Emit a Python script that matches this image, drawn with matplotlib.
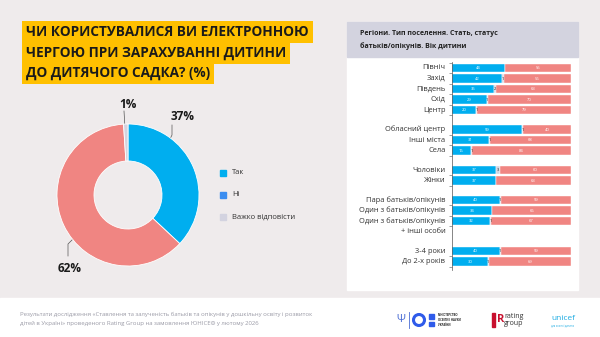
import matplotlib.pyplot as plt
from matplotlib.patches import Rectangle, Circle

plt.rcParams['font.family'] = ['Open Sans', 'DejaVu Sans']

# donut data
pie_labels = ["Так", "Ні", "Важко відповісти"]
pie_values = [37, 62, 1]
pie_colors = ["#00AEEF", "#F08582", "#D3D3E0"]
legend_colors = ["#00AEEF", "#3B8DF0", "#D3D3E0"]

# stacked bar data (yes / hard to say / no)
groups = [
    ["Північ", "Захід", "Південь", "Схід", "Центр"],
    ["Обласний центр", "Інші міста", "Села"],
    ["Чоловіки", "Жінки"],
    ["Пара батьків/опікунів", "Один з батьків/опікунів", "Один з батьків/опікунів\n+ інші особи"],
    ["3-4 роки", "До 2-х років"],
]
yes_vals = [44, 42, 35, 29, 20, 59, 31, 16, 37, 37, 40, 34, 32, 40, 30]
dk_vals  = [0, 1, 2, 1, 1, 1, 1, 1, 3, 0, 1, 0, 1, 1, 1]
no_vals  = [55, 56, 63, 70, 79, 40, 68, 84, 60, 63, 59, 66, 67, 59, 69]

W, H = 600, 337
fig = plt.figure(figsize=(6, 3.37), dpi=100)
fig.patch.set_facecolor("#EFEBEC")

def fx(px):
    return px / W

def fy(py):
    return 1 - py / H

# background panels
bg = fig.add_axes([0, 0, 1, 1])
bg.set_xlim(0, W)
bg.set_ylim(H, 0)
bg.axis("off")
bg.add_patch(Rectangle((0, 298), W, 40, color="white", zorder=0))
bg.add_patch(Rectangle((347, 22), 231, 268, color="white", zorder=0))
bg.add_patch(Rectangle((347, 22), 231, 35, color="#D3D3DF", zorder=0))
bg.text(360, 40, "Регіони. Тип поселення. Стать, статус\nбатьків/опікунів. Вік дитини",
        fontsize=5, fontweight="bold", color="#222222", va="center", linespacing=2.0)

# title
title_lines = ["ЧИ КОРИСТУВАЛИСЯ ВИ ЕЛЕКТРОННОЮ", "ЧЕРГОЮ ПРИ ЗАРАХУВАННІ ДИТИНИ", "ДО ДИТЯЧОГО САДКА? (%)"]
for i, line in enumerate(title_lines):
    bg.text(26, 32 + i * 20.5, line, fontsize=9.8, fontweight="bold", color="#1A1A1A",
            va="center", ha="left",
            bbox=dict(boxstyle="square,pad=0.3", fc="#FFC000", ec="none"))

# footer
bg.text(20, 319, "Результати дослідження «Ставлення та залученість батьків та опікунів у дошкільну освіту і розвиток\n"
        "дітей в Україні» проведеного Rating Group на замовлення ЮНІСЕФ у лютому 2026",
        fontsize=4.3, color="#9A9AA6", va="center", linespacing=1.9)
bg.text(401, 320, "Ψ", fontsize=8, color="#4A6CD4", ha="center", va="center")
bg.plot([409, 409], [312, 328], color="#4A6CD4", lw=0.6)
bg.add_patch(Circle((419, 320), 5.5, fill=False, ec="#2F5BEA", lw=2.2))
bg.add_patch(Rectangle((429, 314), 5, 4.5, color="#2F5BEA"))
bg.add_patch(Rectangle((429, 321.5), 5, 4.5, color="#2F5BEA"))
bg.text(438, 320, "МІНІСТЕРСТВО\nОСВІТИ І НАУКИ\nУКРАЇНИ", fontsize=2, fontweight="bold",
        color="#222222", va="center", linespacing=1.3)
bg.add_patch(Rectangle((492, 313), 3, 14, color="#C8102E"))
bg.text(497, 320, "R", fontsize=8, fontweight="bold", color="#C8102E", va="center")
bg.text(504, 320, "rating\ngroup", fontsize=5, color="#333333", va="center", linespacing=0.9)
bg.text(551, 318, "unicef", fontsize=6, color="#1CABE2", va="center")
bg.text(551, 325.5, "для кожної дитини", fontsize=1.8, color="#1CABE2", va="center")

# donut
ax_pie = fig.add_axes([fx(128 - 75), fy(195 + 75), fx(150), 150 / H])
ax_pie.pie(pie_values, colors=pie_colors, startangle=90, counterclock=False,
           radius=71 / 75, wedgeprops=dict(width=37 / 75, edgecolor="white", linewidth=0.6))
ax_pie.set_xlim(-1, 1)
ax_pie.set_ylim(-1, 1)
ax_pie.set_aspect("equal")

# donut labels with leader lines (pixel coordinates)
bg.plot([162, 172, 172], [155, 135, 125], color="#555555", lw=0.5)
bg.text(183, 117, f"{pie_values[0]}%", fontsize=8.5, fontweight="bold", color="#1A1A1A", ha="center", va="center")
bg.plot([86, 68, 68], [226, 244, 256], color="#555555", lw=0.5)
bg.text(70, 268, f"{pie_values[1]}%", fontsize=8.5, fontweight="bold", color="#1A1A1A", ha="center", va="center")
bg.plot([125, 124], [128, 111], color="#555555", lw=0.5)
bg.text(128, 104, f"{pie_values[2]}%", fontsize=8.5, fontweight="bold", color="#1A1A1A", ha="center", va="center")

# legend
for i, (lab, c) in enumerate(zip(pie_labels, legend_colors)):
    yy = 173 + i * 22
    bg.add_patch(Rectangle((220, yy - 3), 6, 6, color=c))
    bg.text(232, yy, lab, fontsize=5.5, color="#333333", va="center")

# stacked bars
labels = []
ypos = []
pos = 0.0
for gi, g in enumerate(groups):
    if gi > 0:
        pos += 0.85
        if "\n" in groups[gi - 1][-1]:
            pos += 1.0
    for lab in g:
        labels.append(lab)
        ypos.append(pos)
        pos += 1

ax = fig.add_axes([fx(452), fy(270), fx(119), 208 / H])
ax.set_xlim(0, 100)
ax.set_ylim(19.2, -0.57)
ax.set_facecolor("white")
for s in ["top", "right", "bottom"]:
    ax.spines[s].set_visible(False)
ax.spines["left"].set_color("#555555")
ax.spines["left"].set_linewidth(0.5)
ax.set_xticks([])
ax.set_yticks([y + 0.5 for y in ypos] + [-0.5])
ax.set_yticklabels([])
ax.tick_params(axis="y", length=2, width=0.4, color="#555555")

bh = 0.78
for y, lab, a, d, n in zip(ypos, labels, yes_vals, dk_vals, no_vals):
    tot = a + d + n
    a_w, d_w, n_w = a * 100 / tot, d * 100 / tot, n * 100 / tot
    ax.barh(y, a_w, height=bh, color=pie_colors[0], edgecolor="white", linewidth=0.3)
    ax.barh(y, d_w, left=a_w, height=bh, color=pie_colors[2], edgecolor="white", linewidth=0.3)
    ax.barh(y, n_w, left=a_w + d_w, height=bh, color=pie_colors[1], edgecolor="white", linewidth=0.3)
    ax.text(a_w / 2, y, str(a), fontsize=3, color="white", ha="center", va="center")
    ax.text(a_w + d_w + n_w / 2, y, str(n), fontsize=3, color="white", ha="center", va="center")
    if d > 0:
        ax.text(a_w + d_w / 2, y, str(d), fontsize=3, color="#222222", ha="center", va="center")
    if "\n" in lab:
        first, second = lab.split("\n")
        ax.text(-5.5, y, first, fontsize=5.4, color="#333333", ha="right", va="center")
        ax.text(-5.5, y + 1, second, fontsize=5.4, color="#333333", ha="right", va="center")
    else:
        ax.text(-5.5, y, lab, fontsize=5.4, color="#333333", ha="right", va="center")

fig.savefig("out.png", dpi=100, facecolor=fig.get_facecolor())
